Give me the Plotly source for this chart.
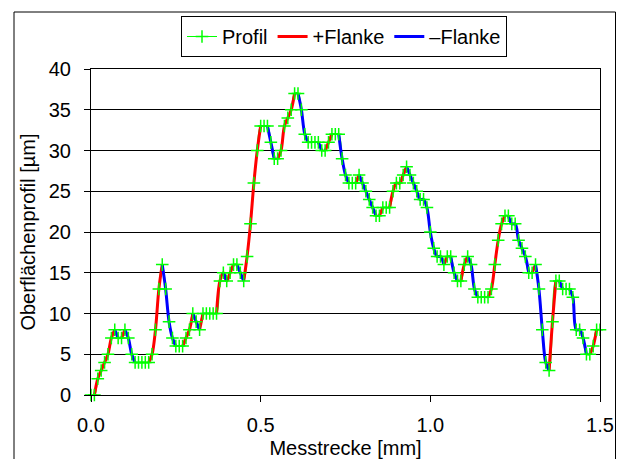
import plotly.graph_objects as go

# Measurement step along the profile [mm]
step_mm = 0.01

profil_um = [
    0, 0, 2, 3, 4, 5, 7, 8, 7, 7,
    8, 7, 5, 4, 4, 4, 4, 4, 5, 8,
    13, 16, 13, 9, 7, 6, 6, 6, 7, 8,
    10, 9, 8, 10, 10, 10, 10, 10, 14, 15,
    14, 15, 16, 16, 15, 14, 17, 21, 26, 30,
    33, 33, 33, 31, 29, 29, 30, 33, 34, 35,
    37, 37, 35, 32, 31, 31, 31, 31, 30, 30,
    31, 32, 32, 32, 29, 27, 26, 26, 26, 27,
    26, 25, 24, 23, 22, 22, 23, 23, 23, 25,
    26, 26, 27, 28, 27, 26, 25, 24, 24, 23,
    20, 18, 17, 17, 16, 17, 17, 15, 14, 14,
    16, 17, 16, 13, 12, 12, 12, 12, 13, 16,
    19, 21, 22, 22, 21, 21, 19, 18, 17, 15,
    15, 16, 13, 8, 4, 3, 9, 14, 14, 13,
    13, 13, 12, 8, 8, 7, 5, 5, 6, 8,
    8,
]

x_ticks = [0.0, 0.5, 1.0, 1.5]
legend_names = ["Profil", "+Flanke", "\u2013Flanke"]

x_mm = [round(i * step_mm, 2) for i in range(len(profil_um))]


def flank(vals, rising):
    out = [None] * len(vals)
    for i in range(len(vals) - 1):
        d = vals[i + 1] - vals[i]
        if (rising and d > 0) or ((not rising) and d < 0):
            out[i] = vals[i]
            out[i + 1] = vals[i + 1]
    return out


plus_flank = flank(profil_um, True)
minus_flank = flank(profil_um, False)

GREEN = "#00FF00"
RED = "#FF0000"
BLUE = "#0000FF"
FONT = "Liberation Sans, Arial, sans-serif"
FS = 20

fig = go.Figure()

# green profile line (under the flanks)
fig.add_trace(go.Scatter(
    x=x_mm, y=profil_um, mode="lines",
    line=dict(color=GREEN, width=1.5, shape="spline", smoothing=1),
    showlegend=False, hoverinfo="skip"))

fig.add_trace(go.Scatter(
    x=x_mm, y=plus_flank, mode="lines", name=legend_names[1], legendrank=2,
    line=dict(color=RED, width=3, shape="spline", smoothing=1),
    connectgaps=False))

fig.add_trace(go.Scatter(
    x=x_mm, y=minus_flank, mode="lines", name=legend_names[2], legendrank=3,
    line=dict(color=BLUE, width=3, shape="spline", smoothing=1),
    connectgaps=False))

# profile markers on top
fig.add_trace(go.Scatter(
    x=x_mm, y=profil_um, mode="markers", cliponaxis=False,
    marker=dict(symbol="cross-thin", size=9, color=GREEN,
                line=dict(color=GREEN, width=1.5)),
    showlegend=False))

# legend entry for the profile (line + marker)
fig.add_trace(go.Scatter(
    x=[None], y=[None], mode="lines+markers", name=legend_names[0], legendrank=1,
    line=dict(color=GREEN, width=1),
    marker=dict(symbol="cross-thin", size=9, color=GREEN,
                line=dict(color=GREEN, width=1.5))))

# page body adds an 8 px offset; work in screen pixels and subtract it
OFF = 8
W, H = 624 - 2 * OFF, 459 + 8
PL, PR, PT, PB = 91 - OFF, 600 - OFF, 69 - OFF, 395 - OFF
L, R, T, B = PL, W - PR, PT, H - PB
pw = PR - PL
ph = PB - PT


def px_x(px):
    return (px - OFF - PL) / pw


def px_y(py):
    return (PB - (py - OFF)) / ph


fig.update_layout(
    template="none",
    width=W, height=H,
    margin=dict(l=L, r=R, t=T, b=B, pad=0, autoexpand=False),
    paper_bgcolor="white", plot_bgcolor="white",
    font=dict(family=FONT, size=FS, color="black"),
    showlegend=True,
    legend=dict(
        orientation="h", x=px_x(181), y=px_y(16),
        xanchor="left", yanchor="top",
        bgcolor="white", bordercolor="black", borderwidth=1,
        font=dict(family=FONT, size=FS, color="black"),
        itemwidth=30, tracegroupgap=0,
    ),
    xaxis=dict(
        range=[0, 1.5], tickvals=x_ticks, tickformat=".1f",
        ticks="outside", ticklen=6, tickcolor="black", tickwidth=1,
        showline=True, linecolor="black", linewidth=1, mirror=True,
        showgrid=False, zeroline=False, automargin=False,
        ticklabelstandoff=6,
        title=dict(text="Messtrecke [mm]", standoff=5,
                   font=dict(family=FONT, size=FS)),
    ),
    yaxis=dict(
        range=[0, 40], dtick=5, tick0=0,
        ticks="outside", ticklen=6, tickcolor="black", tickwidth=1,
        showline=True, linecolor="black", linewidth=1, mirror=True,
        showgrid=True, gridcolor="black", gridwidth=1, zeroline=False,
        automargin=False, ticklabelstandoff=9,
        title=dict(text="Oberfl\u00e4chenprofil [\u00b5m]", standoff=7,
                   font=dict(family=FONT, size=FS)),
    ),
    shapes=[dict(
        type="rect", xref="paper", yref="paper",
        x0=px_x(14), x1=px_x(615.5), y0=px_y(490), y1=px_y(12),
        line=dict(color="black", width=1), fillcolor="rgba(0,0,0,0)",
        layer="below")],
)

fig.write_html("out.html")
